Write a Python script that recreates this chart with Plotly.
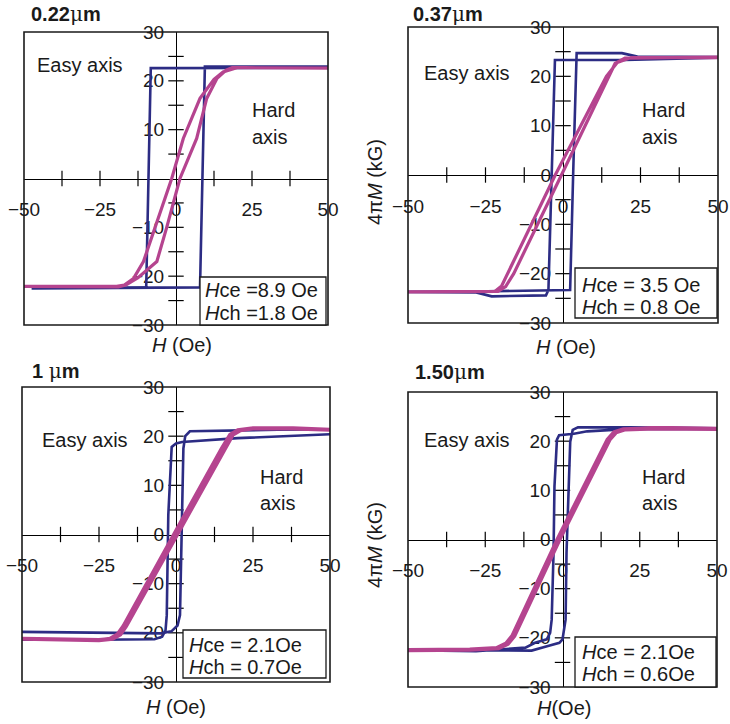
import plotly.graph_objects as go

W, H = 730, 724
NAVY = "#2c2c84"
MAGENTA = "#b5448f"
FONT = "Liberation Sans, Arial, sans-serif"

# ---------------- data ----------------
PANEL_TITLES = ["0.22", "0.37", "1 ", "1.50"]
HCE_TEXT = ["<i>H</i>ce =8.9 Oe", "<i>H</i>ce = 3.5 Oe", "<i>H</i>ce = 2.1Oe", "<i>H</i>ce = 2.1Oe"]
HCH_TEXT = ["<i>H</i>ch =1.8 Oe", "<i>H</i>ch = 0.8 Oe", "<i>H</i>ch = 0.7Oe", "<i>H</i>ch = 0.6Oe"]
X_TITLES = ["<i>H</i> (Oe)", "<i>H</i> (Oe)", "<i>H</i> (Oe)", "<i>H</i>(Oe)"]
Y_TITLE = "4π<i>M</i> (kG)"

X_TICKVALS = [-50, -25, 0, 25, 50]
X_TICKTEXT = ["−50", "−25", "0", "25", "50"]
Y_TICKVALS = [-30, -20, -10, 0, 10, 20, 30]
Y_TICKTEXT_P1 = ["−30", "−20", "−10", "", "10", "20", "30"]
Y_TICKTEXT = ["−30", "−20", "−10", "0", "10", "20", "30"]
X_CROSS_TICKS = [-37.5, -25, -12.5, 12.5, 25, 37.5]
Y_CROSS_TICKS = [-25, -20, -15, -10, -5, 5, 10, 15, 20, 25]

# Panel 1 (0.22 um)
P1_EASY_H = [50, -8.3, -9.8, -47.5, 7.9, 9.5, 50]
P1_EASY_M = [22.7, 22.6, -22.3, -22.5, -22.3, 22.9, 22.9]
P1_HARD_H = [51, 20, 15.5, 12.5, 7.9, 2.4, -1.4, -6.9, -10.7, -14, -17, -19.5, -50.8,
             -19, -16.5, -12.5, -6.3, -3.1, 1.3, 6.8, 10.1, 13.5, 16.5, 18.5, 51]
P1_HARD_M = [22.6, 22.7, 21.8, 20.3, 16.4, 8.2, 0, -10.1, -17, -20.5, -21.8, -22.1, -22.1,
             -22.2, -21.8, -20.3, -17, -10.1, 0, 8.2, 16.4, 20.5, 22.2, 22.7, 22.6]

# Panel 2 (0.37 um)
P2_EASY_H = [50, 20, -2.6, -3.6, -4.7, -5.5, -23, -28, -50, -28, -5, 2.3, 3.3, 4.4, 19, 24, 50]
P2_EASY_M = [23.8, 23.3, 23.3, 3.4, -23.3, -24.4, -24.6, -23.8, -23.7, -23.6, -23.4, -23.3, 0.7, 24.7, 24.7, 24.0, 23.9]
P2_HARD_H = [50.5, 22, 17.5, 14, -2.5, -17.9, -19.8, -22, -50,
             -21, -18.5, -15.9, -0.5, 14.9, 16.8, 20, 50.5]
P2_HARD_M = [23.8, 23.8, 22.8, 20.0, 0, -20, -22.5, -23.6, -23.7,
             -23.6, -22.6, -20, 0, 20, 22.6, 23.7, 23.9]

# Panel 3 (1 um)
P3_EASY_H = [50, 20, 2, 0, -1.4, -2.5, -3.0, -3.4, -4.5, -7, -26, -50, None,
             -50, -5, -1.5, 0.5, 1.3, 2.4, 3.0, 4.5, 33, 50]
P3_EASY_M = [20.4, 19.6, 18.8, 18.5, 17.8, 4, -16.4, -19.5, -20.8, -21.3, -21.4, -21.4, None,
             -19.8, -20.1, -19.7, -18.5, -16.4, 17.5, 20, 21, 21.3, 21.4]
P3_HARD_H = [50, 38, 25, 20.1, 17.6, 14.9, -0.6, -17.0, -18.9, -21.4, -25, -50,
             -25, -20.6, -18.1, -16.2, 0.2, 15.7, 18.4, 20.9, 25, 38, 50]
P3_HARD_M = [21.3, 21.6, 21.6, 21.2, 20.3, 17.5, 0, -18.6, -20.3, -21.2, -21.5, -21.2,
             -21.5, -21.2, -20.3, -18.6, 0, 17.5, 20.3, 21.2, 21.6, 21.6, 21.3]

# Panel 4 (1.50 um)
P4_EASY_H = [50, 22, 8, 3.7, -1.1, -1.8, -2.6, -2.9, -3.5, -4.0, -5.1, -8.9, -12, -28, -50,
             -28, -10, -5, -1, 0, 1.0, 1.3, 2.0, 2.5, 3.3, 5, 22, 50]
P4_EASY_M = [22.5, 22.5, 22.0, 21.5, 21.2, 20.3, 10.8, -2.7, -16.3, -19, -20.3, -21, -22, -22.7, -22.5,
             -22.5, -22.6, -21.7, -21, -20.3, -16.3, -2.7, 10.8, 19.9, 22.3, 22.8, 22.8, 22.6]
P4_HARD_H = [50, 30, 19.7, 16.7, 14.6, -1.6, -16.2, -18.3, -21.3, -30, -50,
             -30, -20.7, -17.7, -15.6, -1.0, 15.2, 17.3, 20.3, 30, 50]
P4_HARD_M = [22.5, 22.6, 22.4, 21.8, 20.3, 0, -19.6, -21.2, -22.1, -22.4, -22.5,
             -22.4, -22.1, -21.2, -19.6, 0, 20.3, 21.8, 22.4, 22.6, 22.5]

EASY = [(P1_EASY_H, P1_EASY_M), (P2_EASY_H, P2_EASY_M), (P3_EASY_H, P3_EASY_M), (P4_EASY_H, P4_EASY_M)]
HARD = [(P1_HARD_H, P1_HARD_M), (P2_HARD_H, P2_HARD_M), (P3_HARD_H, P3_HARD_M), (P4_HARD_H, P4_HARD_M)]

# ---------------- layout (pixel geometry) ----------------
BOX = [(24, 328, 32, 325), (408, 718, 27, 323), (22, 330, 387, 682), (408, 717, 392, 687)]
EASY_POS = [(80, 65), (467, 73), (85, 440), (467, 440)]
HARD_POS = [(250, 110, 137), (640, 110, 137), (258, 477, 503), (640, 477, 503)]
INFO_BOX = [(200, 326, 277, 325), (575, 717, 268, 318), (183, 326, 630, 678), (575, 716, 637, 687)]
INFO_TXT = [(203, 290, 313), (580, 285, 307), (187, 645, 667), (580, 652, 674)]
XT_POS = [(182, 345), (566, 347), (176, 707), (564, 708)]
YT_POS = [None, (375, 182), None, (375, 545)]
TITLE_POS = [(29, 14), (411, 14), (30, 371), (413, 372)]
HARD_WIDTH = [3.2, 3.2, 4.2, 4.2]

fx = lambda px: px / W
fy = lambda py: 1 - py / H

fig = go.Figure()
layout = dict(width=W, height=H, margin=dict(l=0, r=0, t=0, b=0), autosize=False,
              template="none", paper_bgcolor="white", plot_bgcolor="white",
              showlegend=False, font=dict(family=FONT, color="#1a1a1a"))
annotations = []
shapes = []

for i in range(4):
    n = i + 1
    xa = "x" if n == 1 else f"x{n}"
    ya = "y" if n == 1 else f"y{n}"
    x0, x1, y0, y1 = BOX[i]
    layout["xaxis" if n == 1 else f"xaxis{n}"] = dict(
        domain=[fx(x0), fx(x1)], range=[-50, 50], anchor="free",
        position=fy((y0 + y1) / 2), showline=True, linecolor="black", linewidth=1,
        ticks="", tickvals=X_TICKVALS, ticktext=X_TICKTEXT,
        tickfont=dict(size=19, family=FONT, color="#1a1a1a"),
        showgrid=False, zeroline=False, automargin=False, layer="below traces",
        ticklabelstandoff=14, fixedrange=True)
    layout["yaxis" if n == 1 else f"yaxis{n}"] = dict(
        domain=[fy(y1), fy(y0)], range=[-30, 30], anchor="free",
        position=fx((x0 + x1) / 2), showline=True, linecolor="black", linewidth=1,
        ticks="", tickvals=Y_TICKVALS, ticktext=(Y_TICKTEXT_P1 if n == 1 else Y_TICKTEXT),
        tickfont=dict(size=19, family=FONT, color="#1a1a1a"),
        showgrid=False, zeroline=False, automargin=False, layer="below traces",
        ticklabelstandoff=8, fixedrange=True)

    # crossing tick marks on the zero axes
    fig.add_trace(go.Scatter(x=X_CROSS_TICKS, y=[0] * len(X_CROSS_TICKS), xaxis=xa, yaxis=ya,
                             mode="markers", hoverinfo="skip",
                             marker=dict(symbol="line-ns", size=11, color="black",
                                         line=dict(width=1.2, color="black"))))
    fig.add_trace(go.Scatter(x=[0] * len(Y_CROSS_TICKS), y=Y_CROSS_TICKS, xaxis=xa, yaxis=ya,
                             mode="markers", hoverinfo="skip",
                             marker=dict(symbol="line-ew", size=11, color="black",
                                         line=dict(width=1.2, color="black"))))

    eh, em = EASY[i]
    fig.add_trace(go.Scatter(x=eh, y=em, xaxis=xa, yaxis=ya, mode="lines",
                             line=dict(color=NAVY, width=2.6), hoverinfo="skip"))
    hh, hm = HARD[i]
    fig.add_trace(go.Scatter(x=hh, y=hm, xaxis=xa, yaxis=ya, mode="lines",
                             line=dict(color=MAGENTA, width=HARD_WIDTH[i]), hoverinfo="skip"))

    # frame
    shapes.append(dict(type="rect", xref="paper", yref="paper", x0=fx(x0), x1=fx(x1),
                       y0=fy(y1), y1=fy(y0), line=dict(color="#1a1a1a", width=1.6), layer="above"))
    # info box
    bx0, bx1, by0, by1 = INFO_BOX[i]
    shapes.append(dict(type="rect", xref="paper", yref="paper", x0=fx(bx0), x1=fx(bx1),
                       y0=fy(by1), y1=fy(by0), line=dict(color="#1a1a1a", width=1.3),
                       fillcolor="white", layer="above"))
    tx, ty1, ty2 = INFO_TXT[i]
    for txt, ty in ((HCE_TEXT[i], ty1), (HCH_TEXT[i], ty2)):
        annotations.append(dict(text=txt, x=fx(tx), y=fy(ty), xref="paper", yref="paper",
                                xanchor="left", yanchor="middle", showarrow=False,
                                font=dict(size=20, family=FONT, color="#1a1a1a")))
    # labels
    ex, ey = EASY_POS[i]
    annotations.append(dict(text="Easy axis", x=fx(ex), y=fy(ey), xref="paper", yref="paper",
                            xanchor="center", yanchor="middle", showarrow=False,
                            font=dict(size=20, family=FONT, color="#1a1a1a")))
    hx, hy1, hy2 = HARD_POS[i]
    for txt, ty in (("Hard", hy1), ("axis", hy2)):
        annotations.append(dict(text=txt, x=fx(hx), y=fy(ty), xref="paper", yref="paper",
                                xanchor="left", yanchor="middle", showarrow=False,
                                font=dict(size=20, family=FONT, color="#1a1a1a")))
    xtx, xty = XT_POS[i]
    annotations.append(dict(text=X_TITLES[i], x=fx(xtx), y=fy(xty), xref="paper", yref="paper",
                            xanchor="center", yanchor="middle", showarrow=False,
                            font=dict(size=20, family=FONT, color="#1a1a1a")))
    if YT_POS[i] is not None:
        ytx, yty = YT_POS[i]
        annotations.append(dict(text=Y_TITLE, x=fx(ytx), y=fy(yty), xref="paper", yref="paper",
                                xanchor="center", yanchor="middle", showarrow=False, textangle=-90,
                                font=dict(size=20, family=FONT, color="#1a1a1a")))
    tx0, ty0 = TITLE_POS[i]
    annotations.append(dict(text="<b>" + PANEL_TITLES[i] + "</b><span style='font-family:DejaVu Serif'>μ</span><b>m</b>",
                            x=fx(tx0), y=fy(ty0), xref="paper", yref="paper",
                            xanchor="left", yanchor="middle", showarrow=False,
                            font=dict(size=20, family=FONT, color="#1a1a1a")))

layout["annotations"] = annotations
layout["shapes"] = shapes
fig.update_layout(**layout)
fig.write_html("out.html")
